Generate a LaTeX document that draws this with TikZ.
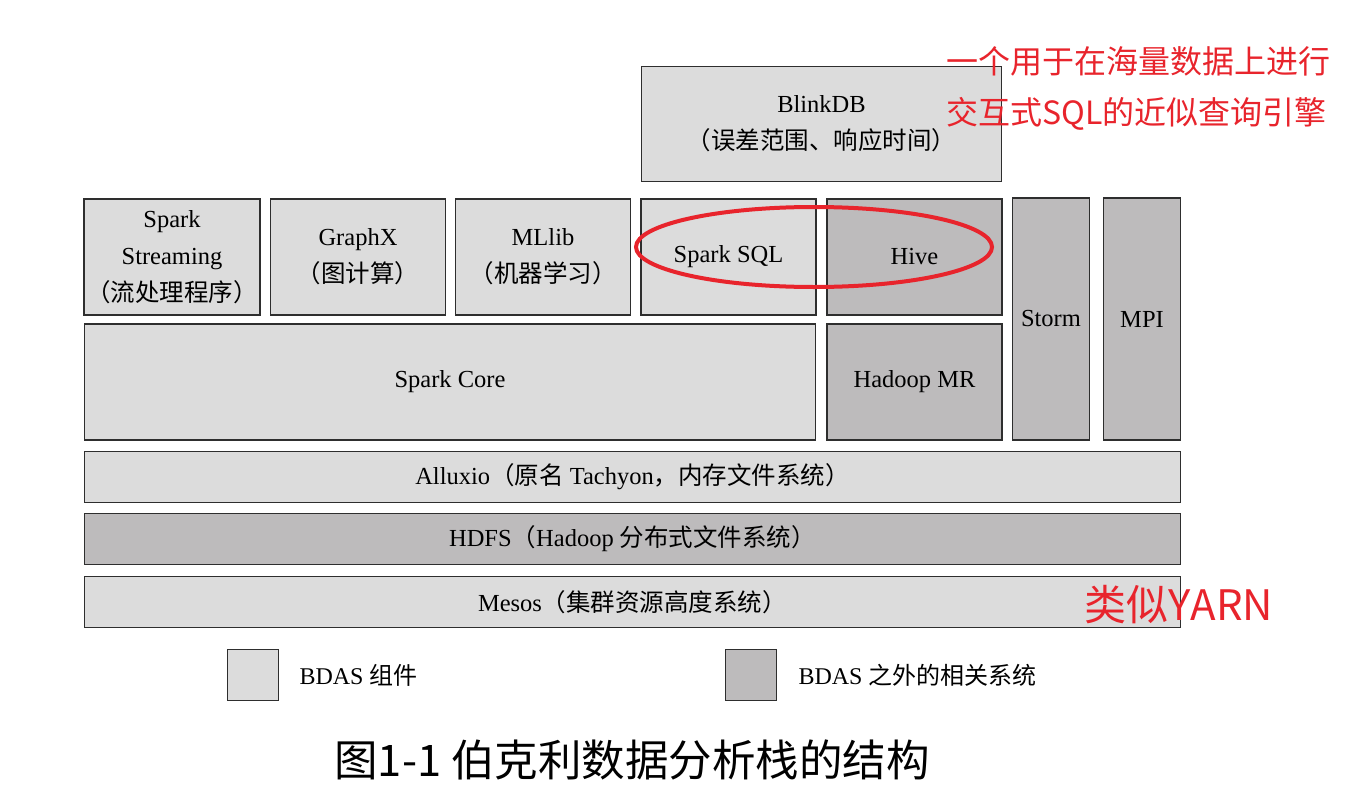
\documentclass[tikz,border=0pt]{standalone}
\usepackage{fontspec}
\setmainfont{Liberation Serif}
\newfontfamily\cjk{Noto Sans CJK SC}
\definecolor{ink}{HTML}{2E2E2E}
\definecolor{bdas}{HTML}{DCDCDC}
\definecolor{other}{HTML}{BDBBBC}
\definecolor{note}{HTML}{E8242C}
\newcommand{\zhtext}[1]{{\cjk #1}}

\begin{document}
\begin{tikzpicture}[x=1pt, y=-1pt,
  blk/.style={draw=ink, line width=1.6pt, fill=bdas, align=center, inner sep=2pt,
    minimum width=175pt, minimum height=116pt, font=\fontsize{24.5}{37}\selectfont},
  ext/.style={blk, fill=other},
  bar/.style={blk, minimum width=1096pt, minimum height=51pt},
  key/.style={draw=ink, line width=1.6pt, minimum width=51pt, minimum height=51pt, inner sep=0pt},
  keytxt/.style={anchor=west, font=\fontsize{24}{28}\selectfont},
  remark/.style={text=note, font=\cjk}]
\useasboundingbox (0,0) rectangle (1356,808);
% top: approximate query engine
\node[blk, minimum width=360pt, minimum height=115pt] (blink) at (821.5,124)
  {BlinkDB\\\zhtext{（误差范围、响应时间）}};
% libraries row
\node[blk] (stream) at (172,257) {Spark\\Streaming\\\zhtext{（流处理程序）}};
\node[blk] (graphx) at (358,257) {GraphX\\\zhtext{（图计算）}};
\node[blk] (mllib) at (543,257) {MLlib\\\zhtext{（机器学习）}};
\node[blk] (sql) at (728.5,257) {Spark SQL};
\node[ext] (hive) at (914.5,257) {Hive};
\node[ext, minimum width=77pt, minimum height=242pt] (storm) at (1051,319) {Storm};
\node[ext, minimum width=77pt, minimum height=242pt] (mpi) at (1142,319) {MPI};
% engines
\node[blk, minimum width=731pt] (core) at (450,382) {Spark Core};
\node[ext] (mr) at (914.5,382) {Hadoop MR};
% storage and resources
\node[bar] (alluxio) at (632.5,477) {Alluxio\zhtext{（原名} Tachyon\zhtext{，内存文件系统）}};
\node[bar, fill=other] (hdfs) at (632.5,539) {HDFS\zhtext{（}Hadoop \zhtext{分布式文件系统）}};
\node[bar] (mesos) at (632.5,602) {Mesos\zhtext{（集群资源高度系统）}};
% legend
\node[key, fill=bdas] (keyin) at (253,675) {};
\node[keytxt] (keyintxt) at (296,675) {BDAS \zhtext{组件}};
\node[key, fill=other] (keyout) at (751,675) {};
\node[keytxt] (keyouttxt) at (795,675) {BDAS \zhtext{之外的相关系统}};
% annotations
\draw[note, line width=4pt] (814,247) ellipse [x radius=178pt, y radius=40pt];
\node[remark, anchor=west, align=left, font=\cjk\fontsize{32}{51}\selectfont] (blinknote) at (943,88)
  {一个用于在海量数据上进行\\交互式SQL的近似查询引擎};
\node[remark, font=\cjk\fontsize{42}{48}\selectfont] (yarnnote) at (1179,605) {类似YARN};
\node[font=\cjk\fontsize{43.5}{48}\selectfont] (caption) at (632,760) {图1-1 伯克利数据分析栈的结构};
\end{tikzpicture}
\end{document}
